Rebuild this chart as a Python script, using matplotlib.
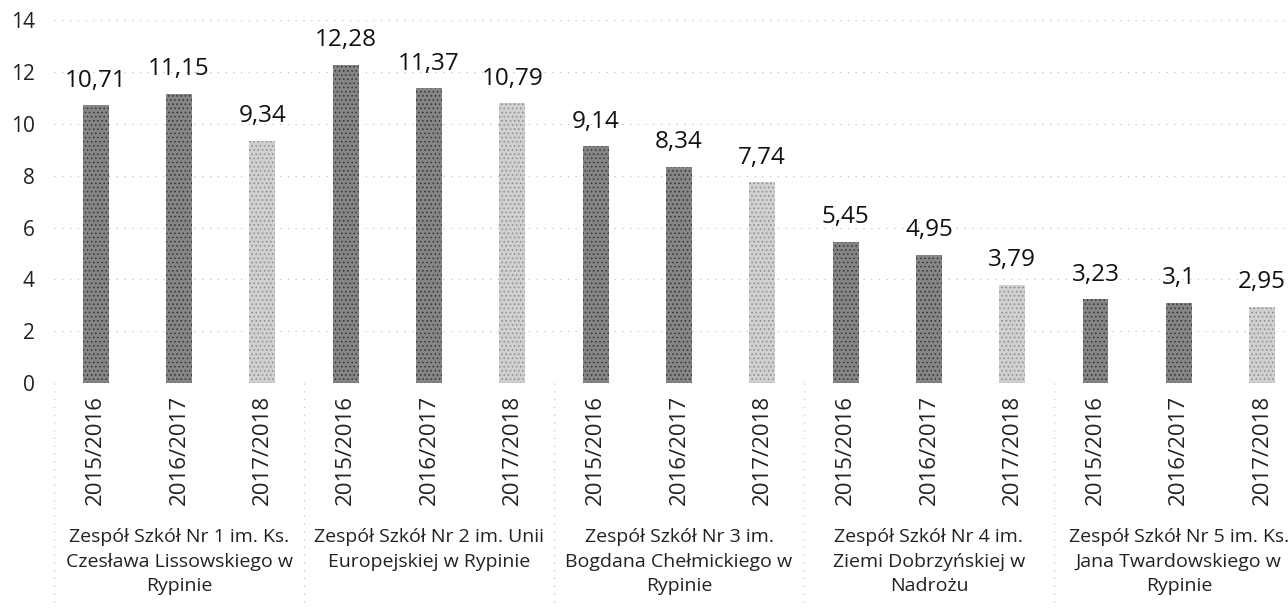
import matplotlib
matplotlib.use("Agg")
import matplotlib.pyplot as plt
import matplotlib.transforms as mtransforms

# --- DATA ---
schools = [
    "Zespół Szkół Nr 1 im. Ks.\nCzesława Lissowskiego w\nRypinie",
    "Zespół Szkół Nr 2 im. Unii\nEuropejskiej w Rypinie",
    "Zespół Szkół Nr 3 im.\nBogdana Chełmickiego w\nRypinie",
    "Zespół Szkół Nr 4 im.\nZiemi Dobrzyńskiej w\nNadrożu",
    "Zespół Szkół Nr 5 im. Ks.\nJana Twardowskiego w\nRypinie",
]
years = ["2015/2016", "2016/2017", "2017/2018"]
values = [
    [10.71, 11.15, 9.34],
    [12.28, 11.37, 10.79],
    [9.14, 8.34, 7.74],
    [5.45, 4.95, 3.79],
    [3.23, 3.1, 2.95],
]
y_ticks = [0, 2, 4, 6, 8, 10, 12, 14]
# ------------

plt.rcParams['font.family'] = ['Open Sans', 'DejaVu Sans']

fig = plt.figure(figsize=(12.88, 6.09), dpi=100)
ax = fig.add_axes([0.042, 0.371, 0.958, 0.596])

face = {"2015/2016": "#858585", "2016/2017": "#858585", "2017/2018": "#d0d0d0"}
dots = {"2015/2016": "#333333", "2016/2017": "#333333", "2017/2018": "#8a8a8a"}

plt.rcParams['hatch.linewidth'] = 0.6
for g, vals in enumerate(values):
    for j, v in enumerate(vals):
        x = g * 3 + j
        yr = years[j]
        ax.bar(x, v, width=0.31, color=face[yr], edgecolor=dots[yr],
               hatch="....", linewidth=0, zorder=2)
        label = f"{v:g}".replace(".", ",")
        ax.annotate(label, (x, v), xytext=(0, 9), textcoords="offset points",
                    ha="center", va="bottom", fontsize=17.5, color="#111111")

ax.set_xlim(-0.5, 14.31)
ax.set_ylim(0, 14)
ax.set_yticks(y_ticks)
ax.tick_params(axis="y", length=0, labelsize=15, pad=14, colors="#222222")
ax.set_xticks([])
for s in ax.spines.values():
    s.set_visible(False)

ax.grid(axis="y", linestyle=(0, (1, 6)), color="#b8b8b8", linewidth=0.8, zorder=0)

trans = mtransforms.blended_transform_factory(ax.transData, ax.transAxes)

# year labels under each bar
for g in range(len(schools)):
    for j, yr in enumerate(years):
        ax.text(g * 3 + j, -0.033, yr, transform=trans, rotation=90,
                ha="center", va="top", fontsize=16, color="#222222")

# group labels and separators
for g, name in enumerate(schools):
    ax.text(g * 3 + 1, -0.40, name, transform=trans, ha="center", va="top",
            fontsize=14, linespacing=1.45, color="#222222")
    ax.plot([g * 3 - 0.5, g * 3 - 0.5], [0, -0.62], transform=trans,
            clip_on=False, linestyle=(0, (1, 6)), color="#b8b8b8", linewidth=0.8)

fig.savefig("out.png", dpi=100)
